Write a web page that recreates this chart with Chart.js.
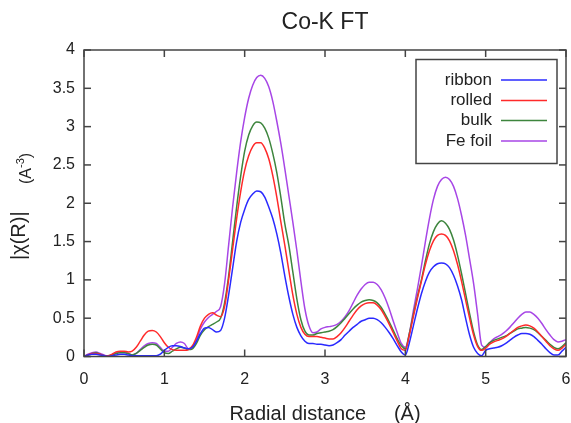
<!DOCTYPE html>
<html>
<head>
<meta charset="utf-8">
<script src="https://cdn.jsdelivr.net/npm/chart.js@4/dist/chart.umd.min.js"></script>
<style>
  html, body { margin: 0; padding: 0; background: #fff; }
  canvas { display: block; }
</style>
</head>
<body>
<canvas id="ftChart" width="571" height="423"></canvas>
<script>
// radial distance grid (Å)
const radial = [
  0.00, 0.05, 0.10, 0.15, 0.20, 0.25, 0.30, 0.35, 0.40, 0.45,
  0.50, 0.55, 0.60, 0.65, 0.70, 0.75, 0.80, 0.85, 0.90, 0.95,
  1.00, 1.05, 1.10, 1.15, 1.20, 1.25, 1.30, 1.35, 1.40, 1.45,
  1.50, 1.55, 1.60, 1.65, 1.70, 1.75, 1.80, 1.85, 1.90, 1.95,
  2.00, 2.05, 2.10, 2.15, 2.20, 2.25, 2.30, 2.35, 2.40, 2.45,
  2.50, 2.55, 2.60, 2.65, 2.70, 2.75, 2.80, 2.85, 2.90, 2.95,
  3.00, 3.05, 3.10, 3.15, 3.20, 3.25, 3.30, 3.35, 3.40, 3.45,
  3.50, 3.55, 3.60, 3.65, 3.70, 3.75, 3.80, 3.85, 3.90, 3.95,
  4.00, 4.05, 4.10, 4.15, 4.20, 4.25, 4.30, 4.35, 4.40, 4.45,
  4.50, 4.55, 4.60, 4.65, 4.70, 4.75, 4.80, 4.85, 4.90, 4.95,
  5.00, 5.05, 5.10, 5.15, 5.20, 5.25, 5.30, 5.35, 5.40, 5.45,
  5.50, 5.55, 5.60, 5.65, 5.70, 5.75, 5.80, 5.85, 5.90, 5.95,
  6.00
];

// |chi(R)| for each sample
const ribbon = [
  0.00, 0.02, 0.03, 0.03, 0.02, 0.01, 0.00, 0.01, 0.02, 0.03,
  0.03, 0.02, 0.01, 0.01, 0.01, 0.01, 0.01, 0.01, 0.01, 0.03,
  0.08, 0.12, 0.14, 0.14, 0.13, 0.11, 0.10, 0.12, 0.20, 0.30,
  0.37, 0.38, 0.35, 0.32, 0.34, 0.50, 0.80, 1.15, 1.50, 1.75,
  1.92, 2.05, 2.12, 2.16, 2.15, 2.08, 1.95, 1.80, 1.60, 1.35,
  1.05, 0.78, 0.55, 0.38, 0.27, 0.20, 0.17, 0.17, 0.16, 0.16,
  0.15, 0.14, 0.15, 0.18, 0.22, 0.28, 0.33, 0.38, 0.42, 0.46,
  0.48, 0.50, 0.50, 0.48, 0.44, 0.38, 0.31, 0.23, 0.14, 0.06,
  0.02, 0.18, 0.40, 0.62, 0.82, 0.98, 1.10, 1.17, 1.21, 1.22,
  1.21, 1.16, 1.06, 0.92, 0.74, 0.50, 0.28, 0.12, 0.04, 0.01,
  0.08, 0.10, 0.11, 0.12, 0.14, 0.17, 0.21, 0.25, 0.28, 0.30,
  0.30, 0.29, 0.26, 0.21, 0.16, 0.10, 0.05, 0.02, 0.02, 0.07,
  0.12
];

const rolled = [
  0.00, 0.02, 0.04, 0.04, 0.03, 0.01, 0.01, 0.03, 0.06, 0.07,
  0.07, 0.06, 0.07, 0.12, 0.20, 0.28, 0.33, 0.34, 0.32, 0.26,
  0.18, 0.12, 0.09, 0.08, 0.08, 0.08, 0.09, 0.14, 0.25, 0.40,
  0.50, 0.55, 0.57, 0.54, 0.52, 0.65, 1.00, 1.40, 1.80, 2.15,
  2.43, 2.62, 2.74, 2.79, 2.79, 2.72, 2.58, 2.36, 2.08, 1.76,
  1.45, 1.12, 0.80, 0.55, 0.38, 0.29, 0.26, 0.26, 0.26, 0.25,
  0.24, 0.23, 0.23, 0.26, 0.31, 0.38, 0.46, 0.54, 0.61, 0.66,
  0.69, 0.70, 0.70, 0.67, 0.61, 0.52, 0.42, 0.31, 0.20, 0.10,
  0.08, 0.28, 0.52, 0.76, 0.98, 1.20, 1.38, 1.51, 1.58, 1.60,
  1.58, 1.51, 1.38, 1.20, 0.98, 0.74, 0.50, 0.28, 0.13, 0.08,
  0.11, 0.16, 0.19, 0.21, 0.23, 0.26, 0.30, 0.34, 0.38, 0.40,
  0.41, 0.40, 0.37, 0.32, 0.26, 0.20, 0.14, 0.10, 0.08, 0.11,
  0.16
];

const bulk = [
  0.00, 0.02, 0.04, 0.05, 0.03, 0.01, 0.01, 0.02, 0.04, 0.05,
  0.05, 0.04, 0.02, 0.04, 0.08, 0.12, 0.15, 0.16, 0.15, 0.10,
  0.05, 0.04, 0.07, 0.10, 0.12, 0.11, 0.09, 0.10, 0.17, 0.28,
  0.35, 0.39, 0.42, 0.45, 0.50, 0.70, 1.05, 1.50, 1.95, 2.35,
  2.68, 2.89, 3.01, 3.06, 3.05, 2.98, 2.85, 2.65, 2.40, 2.08,
  1.73, 1.45, 1.10, 0.75, 0.48, 0.33, 0.28, 0.28, 0.30, 0.31,
  0.32, 0.33, 0.35, 0.39, 0.44, 0.50, 0.56, 0.62, 0.67, 0.71,
  0.73, 0.74, 0.73, 0.70, 0.64, 0.55, 0.45, 0.34, 0.23, 0.14,
  0.10, 0.30, 0.55, 0.78, 1.00, 1.25, 1.47, 1.63, 1.73, 1.77,
  1.74, 1.66, 1.52, 1.32, 1.08, 0.82, 0.56, 0.32, 0.15, 0.09,
  0.13, 0.18, 0.21, 0.23, 0.25, 0.27, 0.30, 0.33, 0.36, 0.37,
  0.38, 0.37, 0.35, 0.31, 0.26, 0.21, 0.16, 0.12, 0.10, 0.13,
  0.18
];

const feFoil = [
  0.00, 0.03, 0.05, 0.06, 0.04, 0.02, 0.00, 0.02, 0.05, 0.06,
  0.06, 0.04, 0.02, 0.04, 0.09, 0.14, 0.17, 0.18, 0.17, 0.12,
  0.07, 0.07, 0.12, 0.17, 0.19, 0.17, 0.10, 0.12, 0.22, 0.36,
  0.45, 0.51, 0.55, 0.59, 0.65, 0.95, 1.45, 1.95, 2.40, 2.80,
  3.12, 3.37, 3.54, 3.64, 3.67, 3.63, 3.52, 3.33, 3.07, 2.78,
  2.45, 2.10, 1.75, 1.38, 0.98, 0.62, 0.40, 0.31, 0.32, 0.36,
  0.38, 0.39, 0.40, 0.42, 0.46, 0.52, 0.60, 0.70, 0.80, 0.88,
  0.94, 0.97, 0.97, 0.94, 0.87, 0.76, 0.62, 0.46, 0.31, 0.17,
  0.12, 0.30, 0.60, 0.88, 1.18, 1.50, 1.80, 2.05, 2.22, 2.31,
  2.34, 2.31, 2.22, 2.06, 1.84, 1.58, 1.27, 0.95, 0.55, 0.15,
  0.12, 0.18, 0.23, 0.26, 0.29, 0.33, 0.38, 0.44, 0.50, 0.55,
  0.58, 0.58, 0.55, 0.50, 0.43, 0.35, 0.28, 0.22, 0.19, 0.20,
  0.22
];

const xTickValues = [0, 1, 2, 3, 4, 5, 6];
const yTickValues = [0, 0.5, 1, 1.5, 2, 2.5, 3, 3.5, 4];

const FONT = "'Liberation Sans', Arial, sans-serif";
const TEXT = '#222';
const AXIS = '#444';

function toPoints(values) {
  return radial.map((r, i) => ({ x: r, y: values[i] }));
}

function makeSet(label, values, color) {
  return {
    label: label,
    data: toPoints(values),
    borderColor: color,
    backgroundColor: color,
    borderWidth: 1.5,
    pointRadius: 0,
    fill: false,
    cubicInterpolationMode: 'monotone'
  };
}

// frame with inward ticks, title, axis titles and legend box
const decorPlugin = {
  id: 'decor',
  afterDraw(chart) {
    const { ctx, chartArea: a, scales } = chart;
    ctx.save();

    ctx.strokeStyle = AXIS;
    ctx.lineWidth = 1.5;
    ctx.strokeRect(a.left, a.top, a.right - a.left, a.bottom - a.top);

    const seg = (x1, y1, x2, y2) => {
      ctx.beginPath();
      ctx.moveTo(x1, y1);
      ctx.lineTo(x2, y2);
      ctx.stroke();
    };
    yTickValues.forEach(v => {
      const y = scales.y.getPixelForValue(v);
      seg(a.left, y, a.left + 7, y);
      seg(a.right, y, a.right - 7, y);
    });
    xTickValues.forEach(v => {
      const x = scales.x.getPixelForValue(v);
      seg(x, a.bottom, x, a.bottom - 7);
      seg(x, a.top, x, a.top + 7);
    });

    // title
    ctx.fillStyle = TEXT;
    ctx.textAlign = 'center';
    ctx.textBaseline = 'middle';
    ctx.font = '23px ' + FONT;
    ctx.fillText('Co-K FT', (a.left + a.right) / 2, 23);

    // x axis title
    ctx.font = '20px ' + FONT;
    ctx.textBaseline = 'alphabetic';
    ctx.fillText('Radial distance     (Å)', (a.left + a.right) / 2, 420);

    // y axis title
    ctx.save();
    ctx.translate(25, 0);
    ctx.rotate(-Math.PI / 2);
    ctx.textAlign = 'left';
    ctx.font = '20px ' + FONT;
    ctx.fillText('|χ(R)|', -260, 0);
    ctx.font = '16px ' + FONT;
    ctx.fillText('(A', -184, 6);
    const w = ctx.measureText('(A').width;
    ctx.font = '11px ' + FONT;
    ctx.fillText('-3', -184 + w, -1);
    const w2 = ctx.measureText('-3').width;
    ctx.font = '16px ' + FONT;
    ctx.fillText(')', -184 + w + w2, 6);
    ctx.restore();

    // legend
    ctx.lineWidth = 1.5;
    ctx.strokeStyle = AXIS;
    ctx.strokeRect(416, 59.5, 141, 104);
    ctx.font = '17px ' + FONT;
    ctx.textAlign = 'right';
    ctx.textBaseline = 'middle';
    const rows = [80, 100.5, 120.5, 141];
    chart.data.datasets.forEach((ds, i) => {
      ctx.fillStyle = TEXT;
      ctx.fillText(ds.label, 492, rows[i]);
      ctx.strokeStyle = ds.borderColor;
      ctx.lineWidth = 1.5;
      seg(501, rows[i], 547, rows[i]);
    });

    ctx.restore();
  }
};

new Chart(document.getElementById('ftChart').getContext('2d'), {
  type: 'line',
  data: {
    datasets: [
      makeSet('ribbon', ribbon, '#2a2aff'),
      makeSet('rolled', rolled, '#ff2a2a'),
      makeSet('bulk', bulk, '#3d853d'),
      makeSet('Fe foil', feFoil, '#a746e6')
    ]
  },
  options: {
    responsive: false,
    animation: false,
    layout: { padding: { top: 50, right: 5, left: 0, bottom: 0 } },
    plugins: {
      legend: { display: false },
      title: { display: false },
      tooltip: { enabled: false }
    },
    scales: {
      x: {
        type: 'linear',
        min: 0,
        max: 6,
        grid: { display: false, drawTicks: false },
        border: { display: false },
        afterBuildTicks: s => { s.ticks = xTickValues.map(v => ({ value: v })); },
        afterFit: s => { s.height = 66.5; s.paddingLeft = 0; s.paddingRight = 0; },
        ticks: {
          autoSkip: false,
          maxRotation: 0,
          padding: 13,
          color: TEXT,
          font: { family: FONT, size: 16 },
          callback: v => String(v)
        }
      },
      y: {
        type: 'linear',
        min: 0,
        max: 4,
        grid: { display: false, drawTicks: false },
        border: { display: false },
        afterBuildTicks: s => { s.ticks = yTickValues.map(v => ({ value: v })); },
        afterFit: s => { s.width = 84; s.paddingTop = 0; s.paddingBottom = 0; },
        ticks: {
          autoSkip: false,
          padding: 9,
          color: TEXT,
          font: { family: FONT, size: 16 },
          callback: v => String(v)
        }
      }
    }
  },
  plugins: [decorPlugin]
});
</script>
</body>
</html>
